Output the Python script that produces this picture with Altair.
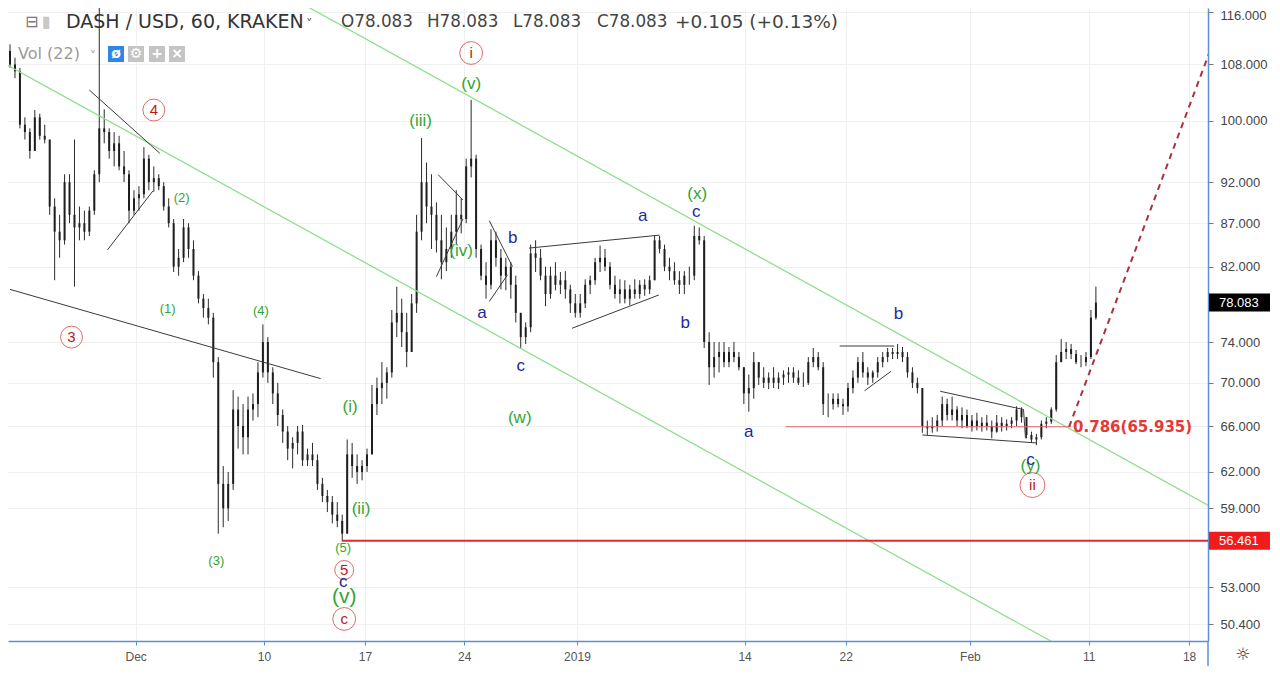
import altair as alt
import pandas as pd

W, H = 1200, 633

# x = candle slot index (one slot per drawn candle), y = price (log)
x_domain = [0.6, 240.6]
y_domain = [49.247, 116.634]

first_open = 110.0
highs = [111, 109, 107.5, 100.5, 99, 101.5, 101, 99.5, 97.5, 90,
         88, 93, 93, 97.5, 89, 88.5, 89, 93.5, 118, 101.6,
         99, 98.5, 98, 96, 93.5, 91, 91.5, 96.5, 95.5, 94,
         93, 92, 90, 87.5, 84, 87.5, 87, 85, 81.5, 79,
         78.5, 77, 72.5, 62.5, 62, 69.3, 68.7, 68, 68.7, 69,
         72, 75.8, 74.5, 71.5, 70, 67.5, 66, 65, 66, 66.1,
         64, 64.5, 63.5, 61.5, 60.5, 60, 59.5, 58.5, 64.8, 64.5,
         63.5, 63, 64, 69.8, 70.5, 72, 71.5, 77.3, 79.8, 78.5,
         77, 79, 88, 97.7, 94.5, 93, 89.5, 88, 86.5, 88,
         91, 90, 95, 102.9, 95.5, 84.5, 82.5, 86.3, 86, 84,
         83, 82.5, 81, 77, 76, 84.5, 85, 84, 82, 82,
         82.5, 81.4, 81.5, 80, 79, 79, 80.6, 81, 83, 84.4,
         84, 82.5, 81, 80.6, 80.5, 80, 80.6, 80.5, 80.6, 81,
         85.5, 85.5, 84.5, 83, 82.5, 81.5, 81.5, 82, 86.7, 86.5,
         85.5, 75, 74, 74, 74, 73.5, 74, 73, 71.5, 70.8,
         73, 72, 71.5, 71, 71.5, 71, 71.2, 71.5, 71.5, 71.2,
         71, 72.5, 73.4, 73, 72, 69, 69, 69, 68.5, 70,
         71.2, 72.5, 73, 71.5, 71.2, 72.5, 73, 73.4, 73.4, 73.8,
         73.5, 73, 71.5, 70.5, 69.5, 66.5, 66.8, 67, 68.7, 68.5,
         68.7, 67.8, 67.7, 67.5, 67, 67.2, 66.8, 67, 66.5, 67,
         66.8, 66.6, 66.8, 67.8, 67.7, 66.8, 65.5, 65.3, 66.5, 66.8,
         67.7, 72.7, 74.3, 74, 73.8, 73.2, 72.7, 73, 77.3, 79.8]
lows = [107.5, 106, 99, 97.5, 95, 96, 97.5, 97, 88, 80.5,
        83, 84.5, 87, 79.8, 85, 85, 85.5, 88, 92, 97,
        95, 94, 93.5, 92, 87, 88, 88.5, 90, 91, 90.8,
        91, 88.5, 86.5, 81.4, 81, 82.5, 83, 80.5, 78, 76.5,
        75.8, 70.5, 57, 57.5, 58, 60.5, 64, 63.5, 63.5, 66.5,
        66.8, 70.5, 70, 68, 66, 64.5, 63, 62.3, 63.5, 62.5,
        62.5, 62.5, 60.5, 59.5, 58.7, 57.8, 57.5, 56.4, 57, 61.5,
        61, 61.3, 62, 63.5, 67, 68, 68.5, 70.5, 74.5, 73.5,
        71.5, 73, 77, 85, 87, 84, 83.6, 80.6, 81.5, 83,
        84.5, 85.8, 87, 92.6, 83, 80.5, 78.5, 79.5, 82, 79.5,
        79.4, 78.5, 76, 73.4, 73.8, 75, 81.4, 80.5, 77.7, 78.5,
        79.4, 79, 78.5, 77, 76.5, 76.5, 77.5, 79, 80, 81.4,
        81.5, 79.5, 78.5, 78, 78, 77.8, 78.5, 78.5, 78.8, 79,
        80.5, 83.5, 81.5, 80.5, 80, 79, 79, 80, 80.5, 84.5,
        73.4, 69.8, 70.5, 71, 71.5, 71.5, 72, 71.2, 68, 67.3,
        68.5, 69.8, 69.5, 69.4, 69.5, 69.4, 69.8, 70, 70, 69.8,
        69.6, 69.8, 71.5, 71.2, 67, 66.8, 67.5, 67.7, 67, 67.3,
        69, 70, 70.5, 69.8, 70, 70.5, 71.5, 72, 72.3, 72.3,
        72, 70.5, 69.5, 69, 65.4, 65.2, 65.4, 65.5, 66, 66.5,
        66.5, 66, 65.8, 65.8, 65.5, 65.6, 65.5, 65.6, 64.9, 65.4,
        65.5, 65.6, 65.8, 66, 66.3, 64.9, 64.5, 64.3, 64.8, 65.8,
        66.2, 67.3, 72, 72.3, 72.3, 71.8, 71.5, 71.6, 72.3, 76.3]
closes = [108, 107, 99.5, 98.5, 96, 100.5, 98, 97.5, 89, 86,
          85, 92, 88, 86.5, 87, 86, 88.5, 93, 99, 98.5,
          96, 97, 94, 93, 88.5, 90, 90.5, 95, 92, 92.5,
          91.5, 89, 87, 82, 83, 86.5, 84, 81, 78.5, 77.5,
          76.5, 72, 61, 59, 61, 67.5, 66, 65, 67.5, 68,
          71, 74, 71, 69, 67, 65.5, 64, 64.5, 65.5, 63,
          63.5, 63, 61, 60, 59.5, 58.5, 58, 57, 63.5, 62.5,
          62, 62.5, 63.5, 68, 69.5, 70, 71, 76, 77, 75,
          73, 78, 86, 92, 89, 88, 85, 82.5, 84, 86,
          88, 87.5, 94, 95, 84, 81, 80, 85, 83, 81,
          82, 80, 77, 74.5, 75.5, 83.5, 83, 81, 79, 81,
          80, 80.5, 79.5, 78, 77, 78, 80, 80.5, 82.5, 83,
          82, 80, 79, 79.5, 78.5, 79.5, 79, 80, 79.5, 80.5,
          85, 84, 82, 81.5, 80.5, 80, 81, 81, 85.5, 85,
          74, 71.5, 72.5, 73, 72, 73, 72.5, 71.5, 69, 69.5,
          72, 70.5, 70, 70.5, 70, 70.5, 70.8, 71, 70.5, 70,
          70, 72, 72.5, 71.5, 68, 68, 68.5, 68, 67.8, 69.5,
          70.5, 72, 71, 70.5, 71, 72, 72.5, 73, 72.8, 73,
          72.5, 71, 70, 69.5, 66, 65.8, 66, 66.5, 68, 67,
          67.5, 66.5, 67, 66, 66.5, 66, 66.3, 66, 65.5, 66.3,
          66, 66.2, 66.5, 67.5, 66.8, 65.2, 64.8, 65, 66.2, 66.4,
          67.5, 72, 73, 73.3, 72.8, 72, 72, 72.5, 76.5, 78.083]

date_ticks = [25.34, 51.2, 71.6, 91.6, 114.34, 148.14, 168.54, 193.6, 217.54, 237.8]
date_labels = ["Dec", "10", "17", "24", "2019", "14", "22", "Feb", "11", "18"]
price_ticks = [50.4, 53, 59, 62, 66, 70, 74, 82, 87, 92, 100, 108, 116]

last_price = 78.083
support_price = 56.461
fib_price = 65.935
fib_text = "0.786(65.935)"

# drawings: ((slot1, price1), (slot2, price2))
channel_lines = [((50, 121.3), (245, 58.5)), ((-3, 108.9), (219, 47.6))]
trend_lines = [
    ((16, 104.3), (30.2, 95.7)), ((19.66, 83.9), (28.8, 90.9)),
    ((0, 79.5), (62.66, 70.4)), ((86.34, 92.95), (91.34, 89.8)),
    ((86, 80.9), (91.34, 87.5)), ((96.66, 87.3), (101.34, 82.0)),
    ((96.66, 78.2), (100.34, 81.1)), ((104.66, 84.1), (131, 85.6)),
    ((113.34, 75.4), (130.86, 78.9)), ((167.34, 73.6), (178.34, 73.6)),
    ((172.34, 69.25), (177.66, 71.1)), ((187.6, 69.2), (204.4, 67.5)),
    ((184, 65.2), (207, 64.5)), ((204.4, 67.5), (204.8, 64.9)),
]
projection = [((213.6, 65.935), (245, 116.1))]
support_span = [67, 245]
fib_span = [156.4, 214]

green_small = [("(2)", 34.6, 90.0), ("(1)", 31.8, 77.4), ("(4)", 50.6, 77.2),
               ("(3)", 41.6, 54.9), ("(5)", 67.2, 55.9)]
green_mid = [("(i)", 68.6, 67.7), ("(ii)", 70.8, 58.95), ("(iii)", 82.8, 100.0),
             ("(iv)", 91, 83.8), ("(v)", 93, 105.2), ("(w)", 102.8, 66.7),
             ("(x)", 138.6, 90.5), ("(y)", 205.8, 62.5)]
green_big = [("(v)", 67.4, 52.3)]
blue_labels = [("c", 67.2, 53.4), ("a", 95.2, 77.0), ("b", 101.4, 85.3), ("c", 103, 71.6),
               ("a", 127.6, 87.9), ("c", 138.4, 88.3), ("b", 136.2, 75.9), ("a", 149, 65.5),
               ("b", 179.2, 76.9), ("c", 205.8, 63.0)]
red_circled = [("4", 29, 101.5), ("3", 12.4, 74.5), ("i", 93, 109.7), ("5", 67.4, 54.25),
               ("c", 67.4, 50.75), ("ii", 206.2, 60.9)]
circle_sizes = [480, 480, 520, 360, 520, 620]

# ---------------------------------------------------------------
opens = [first_open] + closes[:-1]
candles = pd.DataFrame({"slot": list(range(len(closes))), "open": opens,
                        "high": highs, "low": lows, "close": closes})

xs = alt.Scale(domain=x_domain, nice=False, zero=False)
ys = alt.Scale(type="log", domain=y_domain, nice=False, zero=False)

label_expr = "".join(f"datum.value == {v} ? '{l}' : " for v, l in zip(date_ticks, date_labels)) + "''"
AXIS_BLUE = "#5b8fd6"

x_axis = alt.Axis(values=date_ticks, labelExpr=label_expr, grid=True, gridColor="#f0f0f0",
                  domainColor=AXIS_BLUE, domainWidth=1.5, tickColor=AXIS_BLUE, tickSize=4,
                  labelFontSize=12, labelColor="#555555", labelFont="Liberation Sans",
                  labelPadding=6, title=None, labelFlush=False)
y_axis = alt.Axis(orient="right", values=price_ticks, format=".3f", grid=True, gridColor="#f0f0f0",
                  domainColor=AXIS_BLUE, domainWidth=1.5, tickColor="#777777", tickSize=5,
                  labelFontSize=13, labelColor="#444444", labelFont="Liberation Sans",
                  labelPadding=7, title=None, labelFlush=False,
                  labelOffset={"condition": {"test": f"datum.value > {price_ticks[-1] - 1}", "value": 3},
                               "value": 0})


def X(field):
    return alt.X(field, type="quantitative", scale=xs, axis=x_axis)


def Y(field):
    return alt.Y(field, type="quantitative", scale=ys, axis=y_axis)


def seg_df(segs):
    return pd.DataFrame({"x1": [s[0][0] for s in segs], "p1": [s[0][1] for s in segs],
                         "x2": [s[1][0] for s in segs], "p2": [s[1][1] for s in segs]})


def seg_layer(segs, color, width, dash=None):
    kw = dict(color=color, strokeWidth=width, clip=True)
    if dash:
        kw["strokeDash"] = dash
    return alt.Chart(seg_df(segs)).mark_rule(**kw).encode(
        x=X("x1"), x2="x2", y=Y("p1"), y2="p2")


def text_layer(items, color, size, weight="normal", font="Liberation Sans"):
    df = pd.DataFrame({"t": [i[0] for i in items], "slot": [i[1] for i in items],
                       "price": [i[2] for i in items]})
    return alt.Chart(df).mark_text(color=color, fontSize=size, font=font, fontWeight=weight,
                                   align="center", baseline="middle").encode(
        x=X("slot"), y=Y("price"), text="t:N")


dummy = pd.DataFrame({"d": [0]})


def fixed_text(txt, px, py, size, color, font="DejaVu Sans", align="left", weight="normal"):
    return alt.Chart(dummy).mark_text(text=txt, align=align, baseline="middle", fontSize=size,
                                      color=color, font=font, fontWeight=weight).encode(
        x=alt.value(px), y=alt.value(py))


wicks = alt.Chart(candles).mark_rule(color="#2a2a2a", strokeWidth=1, clip=True).encode(
    x=X("slot"), y=Y("low"), y2="high")
bodies = alt.Chart(candles).mark_bar(color="#1e1e1e", size=2, clip=True).encode(
    x=X("slot"), y=Y("open"), y2="close")

green = seg_layer(channel_lines, "#8fdf8f", 1.3)
trends = seg_layer(trend_lines, "#3a3a3a", 1)
proj = seg_layer(projection, "#a8323e", 2, [6, 5])
support = seg_layer([((support_span[0], support_price), (support_span[1], support_price))], "#e8262b", 2)
fib = seg_layer([((fib_span[0], fib_price), (fib_span[1], fib_price))], "#e06060", 1)

fib_label = alt.Chart(pd.DataFrame({"slot": [fib_span[1] + 0.4], "price": [fib_price], "t": [fib_text]})).mark_text(
    color="#e53935", fontSize=15, font="DejaVu Sans", fontWeight="bold", align="left", baseline="middle").encode(
    x=X("slot"), y=Y("price"), text="t:N")

circ_df = pd.DataFrame({"slot": [i[1] for i in red_circled], "price": [i[2] for i in red_circled],
                        "s": circle_sizes})
circles = alt.Chart(circ_df).mark_point(shape="circle", filled=False, color="#d03030",
                                        strokeWidth=1).encode(
    x=X("slot"), y=Y("price"), size=alt.Size("s:Q", scale=None, legend=None))
circ_text = text_layer(red_circled, "#b71c1c", 15)

GREEN = "#33a532"
BLUE = "#1f2aa0"
labels = [text_layer(green_small, GREEN, 13), text_layer(green_mid, GREEN, 17),
          text_layer(green_big, GREEN, 21), text_layer(blue_labels, BLUE, 17)]

# price tags on the axis
tags_df = pd.DataFrame({"price": [last_price, support_price],
                        "t": [f"{last_price:.3f}", f"{support_price:.3f}"],
                        "c": ["black", "red"]})
tag_boxes = alt.Chart(tags_df).mark_rule(strokeWidth=18).encode(
    x=alt.value(W + 1), x2=alt.value(W + 62), y=Y("price"),
    color=alt.Color("c:N", scale=alt.Scale(domain=["black", "red"], range=["#000000", "#f21b1b"]), legend=None))
tag_text = alt.Chart(tags_df).mark_text(color="white", fontSize=13, font="Liberation Sans",
                                        align="left", baseline="middle").encode(
    x=alt.value(W + 11), y=Y("price"), text="t:N")

axis_ext = alt.Chart(dummy).mark_rule(color=AXIS_BLUE, strokeWidth=1.5).encode(
    x=alt.value(W), y=alt.value(H), y2=alt.value(H + 25))

# header
HDR = "#444444"
header = [
    fixed_text("⊟", 17, 14, 16, "#777777"),
    fixed_text("▮", 34, 14, 16, "#c8c8c8"),
    fixed_text("DASH / USD, 60, KRAKEN", 58, 14, 19, "#333333"),
    fixed_text("˅", 298, 16, 13, "#555555"),
    fixed_text("O78.083", 333, 14, 16.8, HDR),
    fixed_text("H78.083", 419, 14, 16.8, HDR),
    fixed_text("L78.083", 505, 14, 16.8, HDR),
    fixed_text("C78.083", 589, 14, 16.8, HDR),
    fixed_text("+0.105 (+0.13%)", 667, 14, 18.5, HDR),
    fixed_text("Vol (22)", 10, 46, 16, "#9a9a9a"),
    fixed_text("˅", 82, 48, 12, "#9a9a9a"),
]
icon_df = pd.DataFrame({"d": [0]})
icons = []
for px, col, glyph in [(108, "#2f86e8", "ø"), (128, "#c4c4c4", "⚙"), (149, "#c4c4c4", "+"), (169, "#c4c4c4", "×")]:
    icons.append(alt.Chart(icon_df).mark_square(size=256, color=col, opacity=1).encode(
        x=alt.value(px), y=alt.value(46)))
    icons.append(fixed_text(glyph, px, 46, 14, "white", align="center", weight="bold"))

gear = fixed_text("☼", W + 35, H + 14, 17, "#333333", align="center")

chart = alt.layer(
    wicks, bodies, green, trends, support, fib, proj, fib_label,
    circles, circ_text, *labels, tag_boxes, tag_text, axis_ext, *header, *icons, gear
).properties(
    width=W, height=H,
    autosize=alt.AutoSizeParams(type="none"),
    padding={"left": 0, "top": 0, "right": 62, "bottom": 25}, background="white"
).configure_view(strokeWidth=0)

chart.save("out.html", embed_options={"renderer": "svg", "actions": False})
